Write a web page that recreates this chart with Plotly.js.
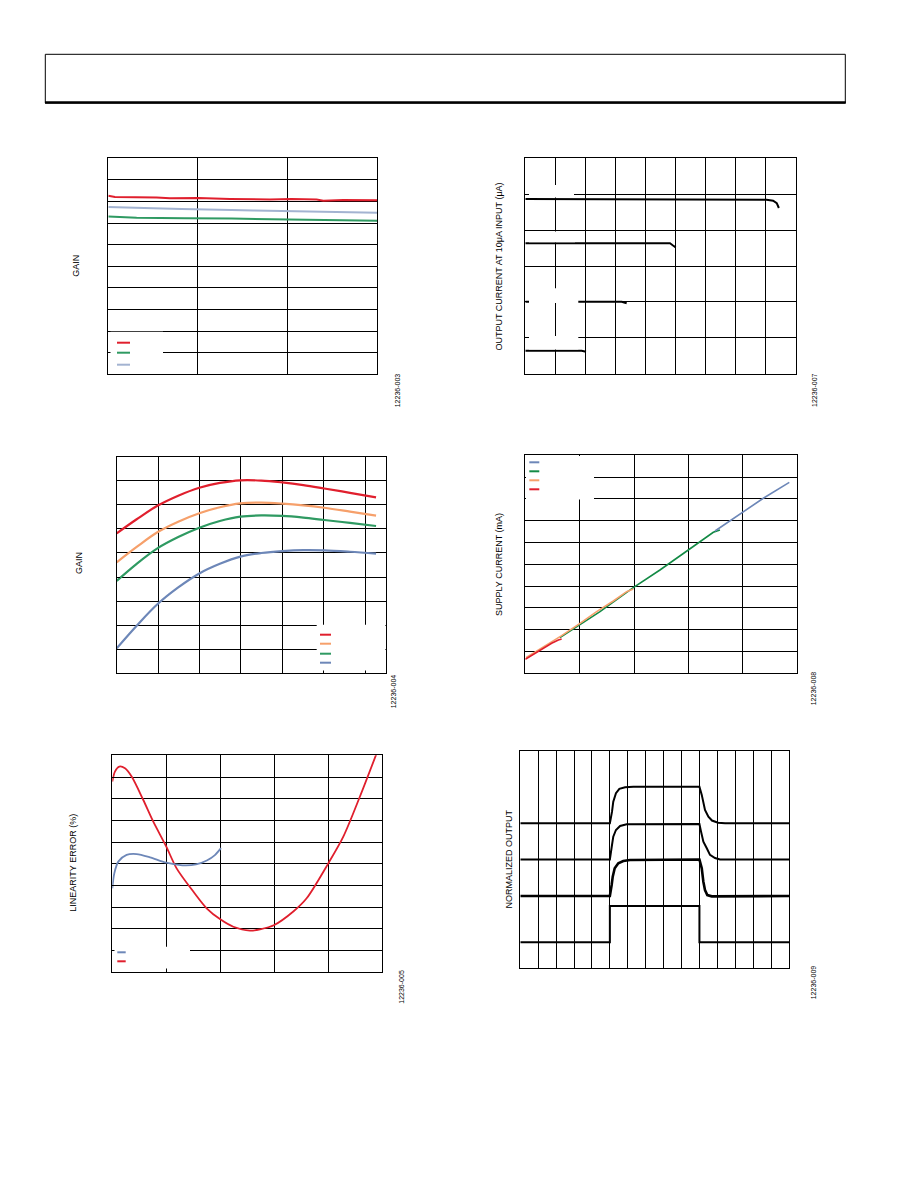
<!DOCTYPE html>
<html>
<head>
<meta charset="utf-8">
<script src="https://cdn.plot.ly/plotly-3.0.1.min.js"></script>
<style>
html,body{margin:0;padding:0;background:#fff;overflow:hidden;}
#chart{width:918px;height:1188px;}
</style>
</head>
<body>
<div id="chart"></div>
<script>
// ---------- DATA ----------
// Chart 1: gain (flat)
const g1RedX   = [0,0.074,0.539,0.688,1.004,1.245,1.357,1.803,2.045,2.323,2.398,2.621,3.0];
const g1RedY   = [8.27,8.21,8.19,8.15,8.16,8.15,8.12,8.09,8.12,8.09,8.04,8.07,8.06];
const g1BlueX  = [0,0.26,0.502,0.818,1.097,1.375,1.617,1.877,2.175,2.435,2.639,2.881,3.0];
const g1BlueY  = [7.75,7.73,7.69,7.65,7.64,7.61,7.58,7.56,7.53,7.52,7.50,7.48,7.48];
const g1GreenX = [0,0.149,0.316,0.855,1.208,1.375,1.822,2.212,2.472,2.602,2.807,3.0];
const g1GreenY = [7.30,7.28,7.25,7.22,7.22,7.21,7.18,7.16,7.13,7.15,7.11,7.11];

// Chart 2: output current at 10uA input
const oc1X = [0,7.03,7.05,8.02,8.24,8.36,8.43];
const oc1Y = [4.866,4.866,4.847,4.847,4.82,4.75,4.616];
const oc2X = [0,4.81,4.9,5.0];
const oc2Y = [3.632,3.632,3.577,3.52];
const oc3X = [0,3.205,3.37];
const oc3Y = [2.006,2.006,1.961];
const oc4X = [0,1.875,2.018];
const oc4Y = [0.641,0.641,0.613];

// Chart 3: gain curves
const gainX      = [0,9.65,19.63,29.7,39.9,49.8,59.69,69.8,79.96,90.1,100.2,112.6,125.2];
const gainRed    = [5.815,6.40,6.96,7.38,7.71,7.91,8.02,8.01,7.93,7.82,7.68,7.50,7.31];
const gainOrange = [4.61,5.25,5.86,6.30,6.65,6.90,7.06,7.09,7.05,6.98,6.88,6.72,6.55];
const gainGreen  = [3.84,4.55,5.19,5.66,6.05,6.33,6.51,6.56,6.54,6.47,6.37,6.25,6.12];
const gainBlue   = [1.04,1.98,2.87,3.57,4.15,4.55,4.85,5.00,5.08,5.12,5.11,5.05,4.97];

// Chart 4: supply current
const scRedX    = [0,0.147,0.331,0.484,0.607,0.668];
const scRedY    = [0.642,0.872,1.147,1.376,1.529,1.575];
const scOrangeX = [0.012,0.27,0.668,1.005,1.311,1.618,1.863,1.985];
const scOrangeY = [0.719,1.116,1.728,2.294,2.829,3.318,3.746,3.869];
const scGreenX  = [0.637,1.005,1.373,1.985,2.475,2.996,3.333,3.456,3.578];
const scGreenY  = [1.636,2.217,2.829,3.930,4.740,5.657,6.269,6.468,6.575];
const scBlueX   = [3.487,4.007,4.375,4.853];
const scBlueY   = [6.529,7.416,8.028,8.761];

// Chart 5: linearity error
const linRedX  = [0,0.049,0.130,0.235,0.358,0.574,0.759,1.0,1.191,1.5,1.747,2.0,2.241,2.549,2.735,3.0,3.352,3.599,4.0,4.278,4.586,4.895];
const linRedY  = [8.79,9.25,9.48,9.40,9.02,7.94,6.94,5.79,4.79,3.72,2.95,2.44,2.10,1.92,1.98,2.18,2.80,3.41,5.02,6.25,8.10,10.09];
const linBlueX = [0,0.037,0.111,0.265,0.451,0.698,1.0,1.3,1.55,1.75,1.90,2.012];
const linBlueY = [3.87,4.56,5.10,5.41,5.45,5.30,5.05,4.93,4.97,5.15,5.40,5.72];

// Chart 6: normalized step response
const stepAX = [0,5.0,5.12,5.19,5.34,5.53,5.85,6.31,10.0,10.13,10.31,10.50,10.70,11.04,11.43,15];
const stepAY = [8.02,8.02,8.66,9.21,9.68,9.92,10.01,10.04,10.04,9.59,8.76,8.38,8.17,8.05,8.02,8.02];
const stepBX = [0,5.0,5.12,5.19,5.34,5.57,5.94,10.0,10.09,10.22,10.41,10.59,10.87,11.15,15];
const stepBY = [6.02,6.02,6.82,7.28,7.65,7.87,7.96,7.98,7.56,7.00,6.64,6.27,6.10,6.02,6.02];
const stepCX = [0,5.0,5.10,5.16,5.27,5.47,5.75,6.12,10.0,10.13,10.22,10.31,10.44,10.69,15];
const stepCY = [4.0,4.0,4.61,5.07,5.53,5.81,5.93,5.99,6.02,5.53,4.79,4.33,4.05,3.98,4.0];
const stepDX = [0,5,5,10,10,15];
const stepDY = [1.44,1.44,3.45,3.45,1.44,1.44];

// Labels
const axisTitles = ["GAIN","OUTPUT CURRENT AT 10μA INPUT (μA)","GAIN","SUPPLY CURRENT (mA)","LINEARITY ERROR (%)","NORMALIZED OUTPUT"];
const figCodes = ["12236-003","12236-007","12236-004","12236-008","12236-005","12236-009"];

// ---------- LAYOUT HELPERS ----------
const W = 918, H = 1188;
const px = v => v / W;
const py = v => 1 - v / H;

const RED = '#e01f2d', ORANGE = '#f6a06b', GREEN = '#2f9a62', BLUE = '#6d87b8', LBLUE = '#a3b3d1', DGREEN = '#138a45';
const FONT = 'Liberation Sans, Arial, sans-serif';

function ax(x0, x1, range, dtick, anchor, extra) {
  return Object.assign({
    domain: [px(x0), px(x1)], range: range, dtick: dtick, tick0: 0, anchor: anchor,
    showgrid: true, gridcolor: '#000', gridwidth: 1,
    showline: true, mirror: true, linecolor: '#000', linewidth: 1,
    zeroline: false, showticklabels: false,
    ticks: 'inside', ticklen: 3, tickcolor: '#000', tickwidth: 1,
    fixedrange: true
  }, extra || {});
}
function ay(yb, yt, range, dtick, anchor, extra) {
  return Object.assign({
    domain: [py(yb), py(yt)], range: range, dtick: dtick, tick0: 0, anchor: anchor,
    showgrid: true, gridcolor: '#000', gridwidth: 1,
    showline: true, mirror: true, linecolor: '#000', linewidth: 1,
    zeroline: false, showticklabels: false,
    ticks: 'inside', ticklen: 3, tickcolor: '#000', tickwidth: 1,
    fixedrange: true
  }, extra || {});
}
function tr(x, y, xa, ya, color, width, shape, smooth) {
  return {x: x, y: y, xaxis: xa, yaxis: ya, type: 'scatter', mode: 'lines',
    line: {color: color, width: width, shape: shape || 'linear', smoothing: smooth || 1},
    hoverinfo: 'skip', showlegend: false};
}

const data = [
  tr(g1RedX, g1RedY, 'x', 'y', RED, 2),
  tr(g1BlueX, g1BlueY, 'x', 'y', LBLUE, 2),
  tr(g1GreenX, g1GreenY, 'x', 'y', GREEN, 2),

  tr(oc1X, oc1Y, 'x2', 'y2', '#000', 2),
  tr(oc2X, oc2Y, 'x2', 'y2', '#000', 2),
  tr(oc3X, oc3Y, 'x2', 'y2', '#000', 2),
  tr(oc4X, oc4Y, 'x2', 'y2', '#000', 2),

  tr(gainX, gainRed, 'x3', 'y3', RED, 2.2, 'spline'),
  tr(gainX, gainOrange, 'x3', 'y3', ORANGE, 2.2, 'spline'),
  tr(gainX, gainGreen, 'x3', 'y3', GREEN, 2.2, 'spline'),
  tr(gainX, gainBlue, 'x3', 'y3', BLUE, 2.2, 'spline'),

  tr(scGreenX, scGreenY, 'x4', 'y4', DGREEN, 1.6),
  tr(scOrangeX, scOrangeY, 'x4', 'y4', ORANGE, 1.6),
  tr(scRedX, scRedY, 'x4', 'y4', RED, 1.6),
  tr(scBlueX, scBlueY, 'x4', 'y4', BLUE, 1.6),

  tr(linRedX, linRedY, 'x5', 'y5', RED, 1.8, 'spline', 0.8),
  tr(linBlueX, linBlueY, 'x5', 'y5', BLUE, 1.8, 'spline', 0.8),

  tr(stepAX, stepAY, 'x6', 'y6', '#000', 2),
  tr(stepBX, stepBY, 'x6', 'y6', '#000', 2),
  tr(stepCX, stepCY, 'x6', 'y6', '#000', 2.6),
  tr(stepDX, stepDY, 'x6', 'y6', '#000', 2)
];

function box(x0, y0, x1, y1) {
  return {type: 'rect', xref: 'paper', yref: 'paper', x0: px(x0), x1: px(x1), y0: py(y1), y1: py(y0),
    fillcolor: '#fff', line: {width: 0}, layer: 'above'};
}
function swatch(x0, x1, y, color, w) {
  return {type: 'line', xref: 'paper', yref: 'paper', x0: px(x0), x1: px(x1), y0: py(y), y1: py(y),
    line: {color: color, width: w || 2}, layer: 'above'};
}

const shapes = [
  // header frame
  {type: 'rect', xref: 'paper', yref: 'paper', x0: px(45.3), x1: px(845.3), y0: py(103), y1: py(54.3),
    line: {color: '#000', width: 1}, fillcolor: 'rgba(0,0,0,0)'},
  {type: 'line', xref: 'paper', yref: 'paper', x0: px(45), x1: px(845.8), y0: py(102.6), y1: py(102.6),
    line: {color: '#000', width: 2.5}},

  // chart 1 legend area
  box(110.5, 331.8, 163, 373.6),
  swatch(117, 130, 342.7, RED), swatch(117, 130, 352.7, GREEN), swatch(117, 130, 364.7, LBLUE),

  // chart 2 label areas
  box(529, 185, 574, 197.6),
  box(529, 231.4, 575, 242.3),
  box(529, 288.3, 578.3, 302.9),
  box(529, 336, 578.3, 349.4),

  // chart 3 legend area
  box(316.7, 624.8, 385.4, 670.6),
  swatch(320, 331, 634.7, RED), swatch(320, 331, 643.7, ORANGE), swatch(320, 331, 653.7, GREEN), swatch(320, 331, 662.7, BLUE),

  // chart 4 legend area
  box(526, 456, 594, 499.5),
  swatch(529.3, 539.3, 462.3, BLUE), swatch(529.3, 539.3, 471.3, DGREEN), swatch(529.3, 539.3, 480.3, ORANGE), swatch(529.3, 539.3, 489.3, RED),

  // chart 5 legend area
  box(114.5, 946.7, 190, 968.4),
  swatch(117.3, 125.7, 952.3, BLUE), swatch(117.3, 125.7, 961.3, RED)
];

function title(x, y, text) {
  return {xref: 'paper', yref: 'paper', x: px(x), y: py(y), text: text, showarrow: false,
    textangle: -90, xanchor: 'center', yanchor: 'middle', font: {family: FONT, size: 9, color: '#000'}};
}
function code(x, y, text) {
  return {xref: 'paper', yref: 'paper', x: px(x), y: py(y), text: text, showarrow: false,
    textangle: -90, xanchor: 'center', yanchor: 'middle', font: {family: FONT, size: 7, color: '#000'}};
}

const annotations = [
  title(75.2, 265.5, axisTitles[0]),
  title(498.8, 266.7, axisTitles[1]),
  title(78.8, 563.3, axisTitles[2]),
  title(498.8, 564.2, axisTitles[3]),
  title(72.2, 862.5, axisTitles[4]),
  title(509.2, 859.2, axisTitles[5]),
  code(397.3, 390, figCodes[0]),
  code(814, 390, figCodes[1]),
  code(393.3, 691, figCodes[2]),
  code(813.3, 688, figCodes[3]),
  code(400.7, 987, figCodes[4]),
  code(813.3, 982, figCodes[5])
];

const layout = {
  width: W, height: H, autosize: false,
  margin: {l: 0, r: 0, t: 0, b: 0, pad: 0},
  paper_bgcolor: '#fff', plot_bgcolor: '#fff',
  showlegend: false,
  font: {family: FONT, size: 9, color: '#000'},
  xaxis:  ax(108.3, 377.3, [0, 3], 1, 'y'),
  yaxis:  ay(374.3, 158.3, [0, 10], 1, 'x'),
  xaxis2: ax(525.3, 796, [0, 9], 1, 'y2'),
  yaxis2: ay(373.7, 158.3, [0, 6], 1, 'x2'),
  xaxis3: ax(116.7, 386, [0, 130], 20, 'y3'),
  yaxis3: ay(673.3, 456.7, [0, 9], 1, 'x3'),
  xaxis4: ax(525.3, 797.3, [0, 5], 1, 'y4', {ticks: ''}),
  yaxis4: ay(673.3, 455.3, [0, 10], 1, 'x4', {ticks: ''}),
  xaxis5: ax(112.3, 382.3, [0, 5], 1, 'y5'),
  yaxis5: ay(972.3, 755.3, [0, 10], 1, 'x5'),
  xaxis6: ax(520.3, 789, [0, 15], 1, 'y6', {ticks: ''}),
  yaxis6: ay(968.3, 751.3, [0, 12], 1, 'x6', {ticks: '', showgrid: false}),
  shapes: shapes,
  annotations: annotations
};

Plotly.newPlot('chart', data, layout, {displayModeBar: false, staticPlot: true});
</script>
</body>
</html>
